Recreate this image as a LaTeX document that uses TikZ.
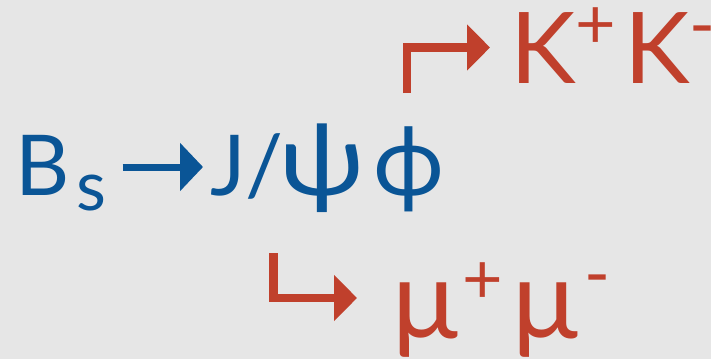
\documentclass[tikz,border=0pt]{standalone}
\usepackage{graphicx}
\usepackage{fontspec}
\setmainfont{Lato}
\usetikzlibrary{arrows.meta}
\definecolor{bgc}{HTML}{E6E6E6}
\definecolor{bsblue}{HTML}{0A5596}
\definecolor{dred}{HTML}{C0402C}
\newcommand\myraise[3]{\raisebox{#1}{\fontsize{#2}{#2}\selectfont #3}}
\newcommand\greekbig[3]{{\fontsize{#1}{#1}\selectfont\scalebox{#2}[1]{#3}}}
\begin{document}
\begin{tikzpicture}[x=1pt,y=-1pt,
  bluetext/.style={text=bsblue, inner sep=0pt, anchor=base west, font=\fontsize{84}{90}\selectfont},
  ktext/.style={text=dred, inner sep=0pt, anchor=base west, font=\fontsize{99}{100}\selectfont},
  mutext/.style={text=dred, inner sep=0pt, anchor=base west, font=\fontsize{110}{110}\selectfont},
  bluearrow/.style={draw=bsblue, line width=7pt, -{Triangle[length=23pt,width=47pt]}},
  redarrow/.style={draw=dred, line width=8.5pt, line join=miter, -{Triangle[length=23pt,width=45pt]}}]
\fill[bgc] (0,0) rectangle (711,359);
\useasboundingbox (0,0) rectangle (711,359);
\node[bluetext] (bs) at (15,195) {B\hspace{7pt}\myraise{-15pt}{69}{s}};
\node[bluetext] (jpf) at (210,195) {J/\hspace{-3pt}\greekbig{100}{1.12}{ψ}\hspace{8pt}\greekbig{96}{1}{ϕ}};
\node[ktext] (kk) at (510,83) {K\myraise{35pt}{70}{+}\hspace{8pt}K\myraise{34pt}{70}{-}};
\node[mutext] (mm) at (392,338) {μ\hspace{5pt}\myraise{35pt}{70}{+}\hspace{9pt}μ\hspace{6pt}\myraise{40pt}{70}{-}};
\draw[bluearrow] ([xshift=16pt,yshift=28pt]bs.base east) -- ([xshift=-7pt,yshift=28pt]jpf.base west);
\coordinate (phiout) at (407,93);
\coordinate (kkin) at ([xshift=-20pt,yshift=35.5pt]kk.base west);
\draw[redarrow] (phiout) |- (kkin);
\coordinate (psiout) at (273.5,253);
\coordinate (mmin) at ([xshift=-35pt,yshift=40pt]mm.base west);
\draw[redarrow] (psiout) |- (mmin);
\end{tikzpicture}
\end{document}
